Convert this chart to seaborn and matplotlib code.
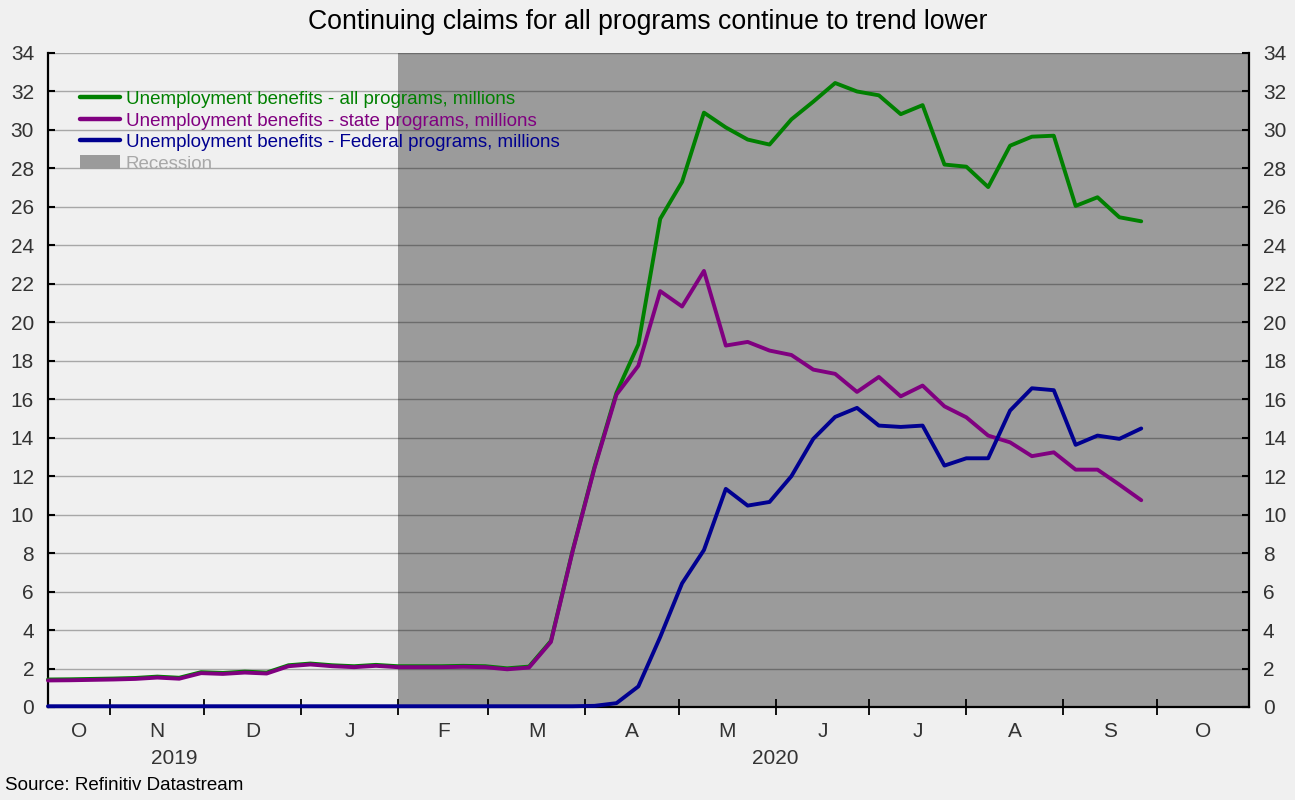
import pandas as pd
import matplotlib
matplotlib.use('Agg')
import matplotlib.pyplot as plt
import matplotlib.dates as mdates
from matplotlib.lines import Line2D
from matplotlib.patches import Patch
import seaborn as sns

# weekly data, week ending Saturday
weeks = pd.date_range('2019-10-12', '2020-09-26', freq='7D')

# millions
all_programs = [1.43, 1.44, 1.46, 1.48, 1.51, 1.58, 1.52, 1.81, 1.77, 1.84,
                1.79, 2.17, 2.26, 2.17, 2.12, 2.19, 2.12, 2.12, 2.12, 2.14,
                2.12, 2.01, 2.10, 3.43, 8.16, 12.50, 16.34, 18.85, 25.38, 27.30,
                30.90, 30.13, 29.50, 29.24, 30.55, 31.47, 32.44, 32.00, 31.80, 30.82,
                31.29, 28.20, 28.09, 27.03, 29.18, 29.65, 29.70, 26.05, 26.50, 25.46,
                25.25]
state_programs = [1.38, 1.39, 1.41, 1.43, 1.46, 1.53, 1.47, 1.76, 1.72, 1.79,
                  1.74, 2.12, 2.21, 2.12, 2.07, 2.14, 2.07, 2.07, 2.07, 2.09,
                  2.07, 1.96, 2.05, 3.38, 8.12, 12.44, 16.24, 17.74, 21.62, 20.82,
                  22.67, 18.79, 18.98, 18.53, 18.30, 17.54, 17.32, 16.38, 17.16, 16.15,
                  16.71, 15.63, 15.06, 14.11, 13.76, 13.04, 13.24, 12.34, 12.34, 11.56,
                  10.75]
federal_programs = [0.04, 0.04, 0.04, 0.04, 0.04, 0.04, 0.04, 0.04, 0.04, 0.04,
                    0.04, 0.04, 0.04, 0.04, 0.04, 0.04, 0.04, 0.04, 0.04, 0.04,
                    0.04, 0.04, 0.04, 0.04, 0.04, 0.06, 0.20, 1.07, 3.64, 6.43,
                    8.16, 11.34, 10.47, 10.66, 12.00, 13.94, 15.08, 15.55, 14.63, 14.56,
                    14.63, 12.55, 12.93, 12.93, 15.41, 16.57, 16.47, 13.63, 14.11, 13.94,
                    14.48]

labels = ['Unemployment benefits - all programs, millions',
          'Unemployment benefits - state programs, millions',
          'Unemployment benefits - Federal programs, millions',
          'Recession']
colors = ['#008000', '#800080', '#000090']
recession_color = '#9b9b9b'

recession_start = pd.Timestamp('2020-02-01')
x_start = pd.Timestamp('2019-10-12')
x_end = pd.Timestamp('2020-10-30 12:00')

sns.set_theme(style='white')
plt.rcParams['font.family'] = ['Liberation Sans', 'DejaVu Sans']

bg = '#f0f0f0'
fig = plt.figure(figsize=(12.95, 8), dpi=100, facecolor=bg)
ax = fig.add_axes([48/1295, 93/800, 1201/1295, 654/800])
ax.set_facecolor(bg)

ax.axvspan(recession_start, x_end, color=recession_color, lw=0, zorder=0)

for series, c in zip([all_programs, state_programs, federal_programs], colors):
    sns.lineplot(x=weeks, y=series, ax=ax, color=c, lw=2.8, clip_on=False, zorder=3)

ax.set_xlim(x_start, x_end)
ax.set_ylim(0, 34)
ax.set_yticks(range(0, 35, 2))
ax.set_axisbelow(True)
ax.yaxis.grid(True, color='black', alpha=0.3, lw=1)
ax.xaxis.grid(False)
ax.set_xlabel('')
ax.set_ylabel('')

ax.spines['top'].set_visible(False)
for s in ['left', 'right', 'bottom']:
    ax.spines[s].set_color('black')
    ax.spines[s].set_linewidth(1.6)

ax.tick_params(axis='y', direction='in', length=5, width=1.5, color='black',
               left=True, right=True, labelleft=True, labelright=True,
               labelsize=15, labelcolor='#333333', pad=10)

# month boundaries as major ticks, month initials centred in each month
month_starts = pd.date_range('2019-11-01', '2020-10-01', freq='MS')
ax.set_xticks(month_starts)
ax.set_xticklabels([])
edges = [x_start] + list(month_starts) + [x_end]
mids = [a + (b - a) / 2 for a, b in zip(edges[:-1], edges[1:])]
month_letters = [d.strftime('%b')[0] for d in [x_start] + list(month_starts)]
ax.set_xticks(mids, minor=True)
ax.set_xticklabels(month_letters, minor=True)
ax.tick_params(axis='x', which='major', direction='inout', length=12, width=1.3,
               color='black', bottom=True)
ax.tick_params(axis='x', which='minor', length=0, pad=11, labelsize=15,
               labelcolor='#333333')

jan = pd.Timestamp('2020-01-01')
for txt, a, b in [('2019', x_start, jan), ('2020', jan, x_end)]:
    ax.text(a + (b - a) / 2, -0.078, txt, transform=ax.get_xaxis_transform(),
            ha='center', va='center', fontsize=15, color='#333333')

handles = [Line2D([], [], color=c, lw=3.2) for c in colors]
handles.append(Patch(facecolor=recession_color, edgecolor='none'))
leg = ax.legend(handles, labels, loc='upper left', bbox_to_anchor=(0.0266, 0.9425),
                frameon=False, fontsize=13.5, handlelength=2.15, handletextpad=0.3,
                labelspacing=0.22, borderaxespad=0, borderpad=0, handleheight=0.75)
for t, c in zip(leg.get_texts(), colors + ['#a8a8a8']):
    t.set_color(c)

fig.text(0.5, 0.9725, 'Continuing claims for all programs continue to trend lower',
         ha='center', va='center', fontsize=19.2, color='black')
fig.text(5/1295, 1 - 785/800, 'Source: Refinitiv Datastream', ha='left',
         va='center', fontsize=13.5, color='black')

fig.savefig('out.png', dpi=100, facecolor=fig.get_facecolor())
